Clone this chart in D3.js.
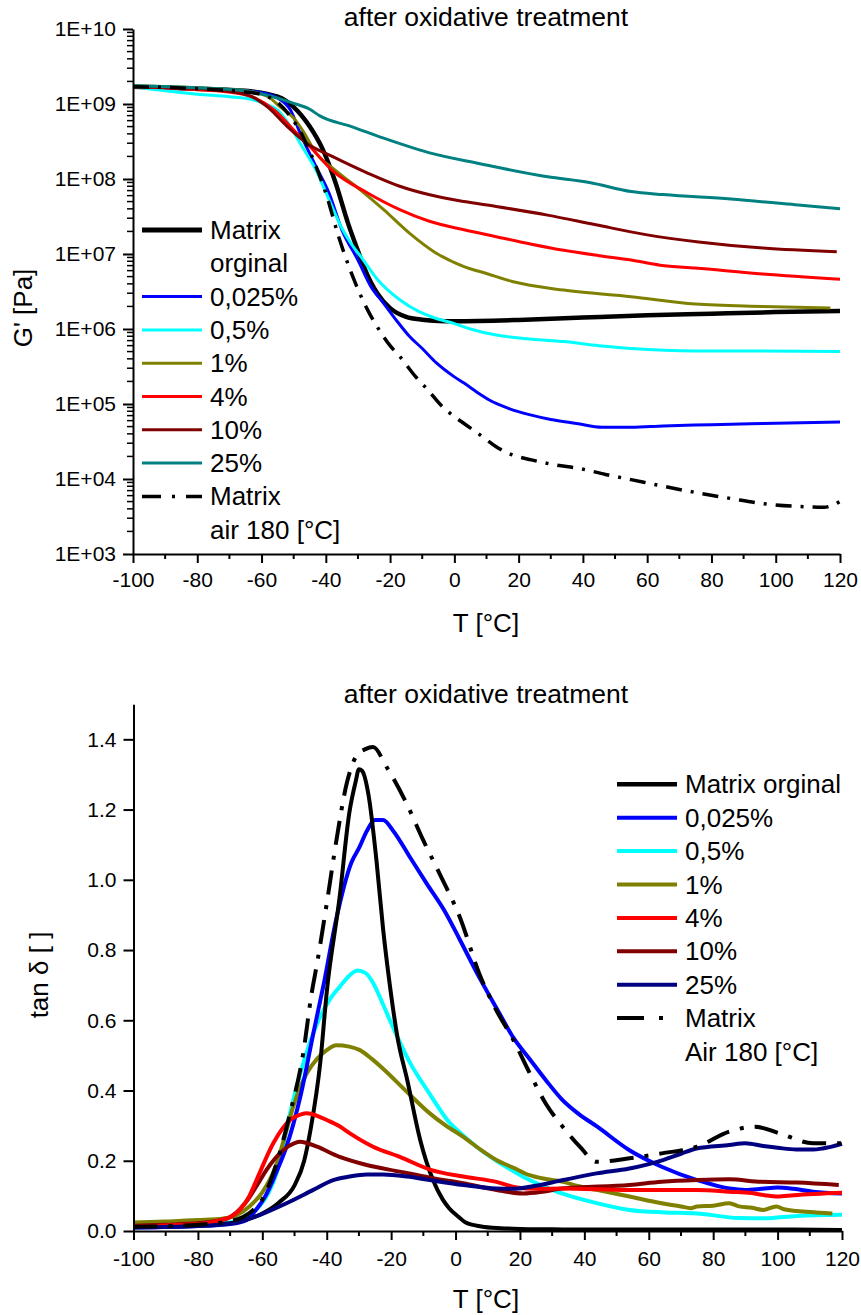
<!DOCTYPE html>
<html>
<head>
<meta charset="utf-8">
<script src="https://cdn.jsdelivr.net/npm/d3@7"></script>
<style>
  html, body { margin: 0; padding: 0; background: #fff; }
  svg { display: block; }
  text { font-family: "Liberation Sans", Arial, sans-serif; fill: #000; }
</style>
</head>
<body>
<svg id="chart" width="861" height="1315"></svg>
<script>
// ---------------- DATA ----------------
const chartTitle = "after oxidative treatment";
const xTicks = [-100, -80, -60, -40, -20, 0, 20, 40, 60, 80, 100, 120];
const xTickLabels = ["-100", "-80", "-60", "-40", "-20", "0", "20", "40", "60", "80", "100", "120"];
const gTicks = [1e3, 1e4, 1e5, 1e6, 1e7, 1e8, 1e9, 1e10];
const gTickLabels = ["1E+03", "1E+04", "1E+05", "1E+06", "1E+07", "1E+08", "1E+09", "1E+10"];
const tanTicks = [0.0, 0.2, 0.4, 0.6, 0.8, 1.0, 1.2, 1.4];
const tanTickLabels = ["0.0", "0.2", "0.4", "0.6", "0.8", "1.0", "1.2", "1.4"];

const seriesColors = ["#000000", "#0000ff", "#00ffff", "#808000", "#ff0000", "#800000", "#008080", "#000000"];
const tanColors = ["#000000", "#0000ff", "#00ffff", "#808000", "#ff0000", "#800000", "#000080", "#000000"];
const gLegend = [["Matrix", "orginal"], ["0,025%"], ["0,5%"], ["1%"], ["4%"], ["10%"], ["25%"], ["Matrix", "air 180 [°C]"]];
const tanLegend = [["Matrix orginal"], ["0,025%"], ["0,5%"], ["1%"], ["4%"], ["10%"], ["25%"], ["Matrix", "Air 180 [°C]"]];

// G' [Pa] vs T
const gMatrix = [[-100,1.7e9],[-80,1.6e9],[-65,1.5e9],[-55,1.25e9],[-50,9.1e8],[-45,5.0e8],[-41,2.5e8],[-37,9e7],[-33,2.5e7],[-30,1.1e7],[-28,6.5e6],[-24,3.0e6],[-20,1.9e6],[-15,1.45e6],[-10,1.33e6],[-5,1.28e6],[0,1.27e6],[20,1.32e6],[40,1.42e6],[60,1.52e6],[80,1.6e6],[100,1.68e6],[120,1.74e6]];
const gP0025 = [[-100,1.7e9],[-80,1.6e9],[-65,1.5e9],[-58,1.35e9],[-55,1.2e9],[-51,8.3e8],[-48,4.1e8],[-43,1.45e8],[-39,6.5e7],[-35,2.1e7],[-30,8.3e6],[-26,3.7e6],[-22,2.2e6],[-18,1.3e6],[-14,8.0e5],[-10,5.5e5],[-5.5,3.5e5],[0,2.3e5],[3,1.9e5],[8,1.35e5],[11,1.12e5],[17,8.7e4],[24,7.1e4],[30,6.2e4],[38,5.5e4],[46,4.9e4],[55,4.9e4],[65,5.1e4],[80,5.3e4],[96,5.5e4],[120,5.75e4]];
const gP05 = [[-100,1.7e9],[-90,1.5e9],[-80,1.35e9],[-70,1.25e9],[-63,1.15e9],[-59,1.0e9],[-55,8.3e8],[-51,5.0e8],[-48,3.0e8],[-43,1.3e8],[-39,5.3e7],[-35,2.2e7],[-32,1.35e7],[-29,9.1e6],[-24,4.6e6],[-17,2.45e6],[-11,1.7e6],[-6,1.4e6],[0,1.18e6],[5,1.0e6],[13,8.3e5],[24,7.3e5],[34,6.8e5],[45,6.0e5],[55,5.5e5],[75,5.1e5],[96,5.1e5],[120,5.0e5]];
const gP1 = [[-100,1.75e9],[-80,1.65e9],[-65,1.5e9],[-58,1.25e9],[-54,9e8],[-50,6.5e8],[-47,4.3e8],[-43,2.2e8],[-37,1.3e8],[-29,7e7],[-22,3.9e7],[-14,1.9e7],[-6,1.05e7],[3,6.8e6],[10,5.5e6],[18,4.3e6],[34,3.3e6],[55,2.7e6],[75,2.15e6],[96,2.0e6],[117,1.9e6]];
const gP4 = [[-100,1.7e9],[-80,1.55e9],[-68,1.4e9],[-62,1.2e9],[-56,8.3e8],[-50,4.5e8],[-44,2.45e8],[-38,1.3e8],[-27,6.5e7],[-17,3.9e7],[-8,2.75e7],[3,2.1e7],[13,1.7e7],[24,1.35e7],[34,1.12e7],[45,9.5e6],[55,8.3e6],[64,7.1e6],[75,6.5e6],[96,5.4e6],[120,4.6e6]];
const gP10 = [[-100,1.7e9],[-80,1.6e9],[-67,1.4e9],[-63,1.25e9],[-58,9e8],[-52,5e8],[-46,3e8],[-38,2.0e8],[-27,1.2e8],[-17,8e7],[-8,6.2e7],[3,5.0e7],[13,4.3e7],[29,3.3e7],[44,2.45e7],[60,1.8e7],[76,1.45e7],[96,1.2e7],[119,1.07e7]];
const gP25 = [[-100,1.75e9],[-80,1.65e9],[-65,1.5e9],[-58,1.3e9],[-50,1.02e9],[-45,8.5e8],[-42,7e8],[-32,5e8],[-22,3.5e8],[-8,2.25e8],[8,1.6e8],[29,1.07e8],[42,9e7],[55,6.8e7],[65,6.2e7],[86,5.4e7],[107,4.5e7],[120,4.0e7]];
const gAir180 = [[-100,1.7e9],[-80,1.6e9],[-65,1.45e9],[-58,1.25e9],[-55,1.05e9],[-51,6.8e8],[-47,3.6e8],[-43,1.45e8],[-40,6.5e7],[-36,1.7e7],[-32,5.5e6],[-27,1.8e6],[-24,1.07e6],[-20,6e5],[-17,4.3e5],[-12,2.3e5],[-8,1.5e5],[-4,9.5e4],[0,6.8e4],[3,5.5e4],[9,3.6e4],[13,2.7e4],[18,2.1e4],[24,1.8e4],[31,1.55e4],[39,1.38e4],[47,1.15e4],[55,9.8e3],[65,8.0e3],[76,6.5e3],[86,5.5e3],[96,4.7e3],[107,4.3e3],[115,4.2e3],[120,5.0e3]];

// tan delta vs T
const tMatrix = [[-100,.012],[-90,.015],[-80,.018],[-70,.022],[-65,.032],[-60,.05],[-55,.08],[-50,.13],[-47,.2],[-45,.29],[-42,.48],[-40,.68],[-36,.95],[-33,1.19],[-31,1.28],[-30,1.315],[-29,1.31],[-27,1.24],[-24.5,1.05],[-22.5,.86],[-20.4,.70],[-18,.55],[-15,.43],[-11,.26],[-7,.145],[-4,.09],[-2,.065],[1,.04],[3,.025],[8,.013],[14,.008],[20,.006],[30,.005],[40,.004],[60,.004],[80,.004],[100,.004],[120,.003]];
const tP0025 = [[-100,.01],[-80,.014],[-70,.02],[-65,.031],[-62,.06],[-59,.1],[-56,.16],[-52.5,.24],[-48,.39],[-44,.57],[-41,.70],[-37,.89],[-32.3,1.05],[-30,1.09],[-27.5,1.14],[-25,1.17],[-22.5,1.17],[-19.4,1.14],[-14.2,1.065],[-9,.99],[-3,.905],[1.3,.83],[7.5,.72],[13,.63],[18,.55],[23,.49],[28,.43],[33,.375],[38,.335],[44,.297],[54,.23],[64,.183],[75,.145],[85,.121],[90,.117],[95,.12],[100,.124],[105,.12],[111,.112],[120,.107]];
const tP05 = [[-100,.012],[-80,.016],[-70,.024],[-67,.031],[-64,.045],[-61,.069],[-58,.11],[-55.6,.164],[-51.4,.335],[-47.3,.477],[-43,.59],[-39,.66],[-36,.695],[-33,.727],[-30.5,.742],[-28,.735],[-25.5,.705],[-22.5,.645],[-19.4,.58],[-14.2,.48],[-8,.39],[-2,.31],[2,.275],[6.5,.24],[12.7,.2],[18,.17],[23,.145],[28,.125],[33,.107],[44,.079],[54,.06],[65,.053],[75,.05],[88,.037],[96,.036],[106,.043],[120,.046]];
const tP1 = [[-100,.024],[-90,.027],[-80,.031],[-72,.036],[-68,.045],[-64,.07],[-60,.11],[-56,.18],[-53,.27],[-50.4,.354],[-46.2,.449],[-43,.49],[-40,.515],[-37,.529],[-33,.525],[-29.7,.515],[-26,.49],[-22.5,.462],[-15.2,.397],[-8,.335],[-3,.3],[2.4,.268],[8,.23],[12.7,.202],[18,.18],[23,.159],[28,.148],[33.4,.14],[38,.128],[43.8,.117],[54,.098],[64,.079],[70,.07],[73,.065],[75,.07],[80,.072],[85,.079],[88,.07],[92,.066],[95.5,.06],[99.6,.07],[102,.062],[106,.057],[112,.053],[117,.05]];
const tP4 = [[-100,.012],[-90,.016],[-80,.02],[-73,.031],[-70,.04],[-67,.06],[-64,.1],[-61.8,.145],[-56.6,.25],[-51.4,.316],[-48,.332],[-46.2,.335],[-43,.328],[-40,.316],[-36,.298],[-32.8,.278],[-25.6,.24],[-17.3,.211],[-8,.175],[2.4,.155],[12.7,.14],[19,.124],[25,.12],[33,.121],[54,.117],[75,.117],[85,.112],[92,.108],[96,.102],[100,.098],[105,.102],[120,.109]];
const tP10 = [[-100,.015],[-90,.018],[-80,.022],[-71,.035],[-65,.083],[-61,.14],[-58.7,.174],[-53.5,.23],[-50,.25],[-48.3,.254],[-46,.25],[-43,.24],[-36,.211],[-27.6,.188],[-17.3,.169],[-8,.152],[2.4,.136],[12.7,.117],[21,.107],[27,.112],[33,.121],[54,.131],[64,.14],[75,.145],[85,.147],[95,.14],[106,.138],[119,.131]];
const tP25 = [[-100,.01],[-80,.014],[-69,.022],[-65,.032],[-60.7,.046],[-52.5,.079],[-44.2,.117],[-38,.145],[-33,.155],[-27.6,.161],[-22.5,.161],[-15,.155],[-8,.145],[2.4,.131],[12.7,.121],[18,.12],[23.1,.126],[33.4,.145],[43.8,.164],[54,.178],[64.4,.202],[70,.22],[74.8,.235],[85,.245],[90,.25],[95.5,.242],[100,.237],[105.8,.232],[111,.232],[114,.235],[120,.248]];
const tAir180 = [[-100,.012],[-90,.014],[-80,.018],[-70,.028],[-66,.04],[-62.8,.06],[-60,.09],[-56.6,.164],[-51.4,.335],[-47.3,.506],[-44.7,.676],[-43,.762],[-40,.932],[-37,1.112],[-33.8,1.274],[-30.7,1.354],[-28,1.372],[-25.6,1.378],[-21.4,1.321],[-15.2,1.217],[-10,1.112],[-5,1.018],[1.3,.894],[7.5,.73],[12,.64],[18,.543],[23,.45],[28,.363],[33,.3],[38.6,.24],[43.8,.197],[54,.207],[64,.221],[75,.24],[85,.283],[93,.297],[100.6,.278],[111,.25],[120,.25]];

const gSeries = [gMatrix, gP0025, gP05, gP1, gP4, gP10, gP25, gAir180];
const tanSeries = [tMatrix, tP0025, tP05, tP1, tP4, tP10, tP25, tAir180];

// ---------------- DRAWING ----------------
const svg = d3.select("#chart");
const FONT_TICK = 21, FONT_TITLE = 26.5, FONT_AXT = 26, FONT_LEG = 26;
const FF = "'Liberation Sans', Arial, sans-serif";

function drawPanel(opt) {
  const g = svg.append("g");
  const x = d3.scaleLinear().domain([-100, 120]).range(opt.xRange);
  const y = opt.y;

  // title
  g.append("text").attr("x", 486).attr("y", opt.titleY)
    .attr("text-anchor", "middle").style("font-size", FONT_TITLE + "px").text(chartTitle);

  // lines
  const line = d3.line().x(d => x(d[0])).y(d => y(d[1])).curve(d3.curveMonotoneX);
  opt.order.forEach(i => {
    const isDash = i === 7;
    g.append("path").datum(opt.series[i])
      .attr("d", line)
      .attr("fill", "none")
      .attr("stroke", opt.colors[i])
      .attr("stroke-width", i === 0 ? opt.blackW : (isDash ? opt.dashW : opt.lineW))
      .attr("stroke-linejoin", "round")
      .attr("stroke-dasharray", isDash ? opt.dash : null);
  });

  // x axis
  const xAxis = g.append("g").attr("transform", `translate(0,${opt.yBase})`)
    .call(d3.axisBottom(x).tickValues(xTicks).tickSize(9).tickSizeOuter(0)
      .tickFormat((d, i) => xTickLabels[i]));
  xAxis.select(".domain").attr("stroke-width", 2);
  xAxis.selectAll(".tick line").attr("stroke-width", 2);
  xAxis.selectAll(".tick text").style("font-size", FONT_TICK + "px").attr("dy", 0).attr("y", opt.xLabelDy)
    .style("font-family", FF);
  const minorX = d3.range(-90, 120, 20);
  xAxis.selectAll(".minor").data(minorX).enter().append("line")
    .attr("x1", d => x(d)).attr("x2", d => x(d)).attr("y1", 0).attr("y2", 5)
    .attr("stroke", "#000").attr("stroke-width", 2);
  xAxis.append("text").attr("x", 486).attr("y", opt.xTitleDy)
    .attr("text-anchor", "middle").style("font-size", FONT_AXT + "px").style("font-family", FF)
    .attr("fill", "#000").text("T [°C]");

  // y axis
  const yAxis = g.append("g").attr("transform", `translate(${opt.xRange[0]},0)`)
    .call(d3.axisLeft(y).tickValues(opt.yTicks).tickSize(10).tickSizeOuter(0)
      .tickFormat((d, i) => opt.yTickLabels[i]));
  yAxis.select(".domain").attr("stroke-width", 2);
  yAxis.selectAll(".tick line").attr("stroke-width", 2);
  yAxis.selectAll(".tick text").style("font-size", FONT_TICK + "px").attr("x", -17)
    .style("font-family", FF);
  if (opt.minorY) {
    yAxis.selectAll(".minor").data(opt.minorY).enter().append("line")
      .attr("x1", -6).attr("x2", 0).attr("y1", d => y(d)).attr("y2", d => y(d))
      .attr("stroke", "#000").attr("stroke-width", 1.5);
  }
  // y title
  g.append("text").attr("transform", `translate(${opt.yTitleX},${opt.yTitleY}) rotate(-90)`)
    .attr("text-anchor", "middle").style("font-size", FONT_AXT + "px").text(opt.yTitle);

  // legend
  const leg = g.append("g");
  let row = 0;
  opt.legend.forEach((lab, i) => {
    const ly = opt.legY + row * opt.legStep;
    leg.append("line").attr("x1", opt.legX).attr("x2", opt.legX + 60)
      .attr("y1", ly).attr("y2", ly)
      .attr("stroke", opt.colors[i])
      .attr("stroke-width", i === 0 ? opt.blackW + 0.5 : (i === 7 ? opt.dashW : opt.lineW))
      .attr("stroke-dasharray", i === 7 ? opt.legDash : null);
    lab.forEach((t, k) => {
      leg.append("text").attr("x", opt.legX + 68).attr("y", ly + 9 + k * opt.legStep)
        .style("font-size", FONT_LEG + "px").text(t);
    });
    row += lab.length;
  });
}

// top panel: G'
const yG = d3.scaleLog().domain([1e3, 1e10]).range([554, 29]);
const minorG = [];
for (let e = 3; e < 10; e++) for (let m = 2; m <= 9; m++) minorG.push(m * Math.pow(10, e));
drawPanel({
  series: gSeries, colors: seriesColors, y: yG, xRange: [133, 840], yBase: 554,
  yTicks: gTicks, yTickLabels: gTickLabels, minorY: minorG,
  titleY: 26, xLabelDy: 33, xTitleDy: 78,
  yTitle: "G' [Pa]", yTitleX: 32, yTitleY: 308,
  lineW: 3, blackW: 4.5, dashW: 3.5, dash: "16,9,3,9", legDash: "19,11,3,11",
  legend: gLegend, legX: 142, legY: 230, legStep: 33.3,
  order: [0, 1, 2, 3, 4, 5, 6, 7]
});

// bottom panel: tan delta
const yT = d3.scaleLinear().domain([0, 1.5]).range([1231, 704.2]);
drawPanel({
  series: tanSeries, colors: tanColors, y: yT, xRange: [133.5, 842], yBase: 1231,
  yTicks: tanTicks, yTickLabels: tanTickLabels, minorY: null,
  titleY: 703, xLabelDy: 35, xTitleDy: 77,
  yTitle: "tan δ [ ]", yTitleX: 48, yTitleY: 975,
  lineW: 4, blackW: 4, dashW: 4, dash: "24,11,4,11", legDash: "27,15,4,14",
  legend: tanLegend, legX: 617, legY: 784.3, legStep: 33.4,
  order: [2, 3, 1, 0, 5, 4, 6, 7]
});
</script>
</body>
</html>
